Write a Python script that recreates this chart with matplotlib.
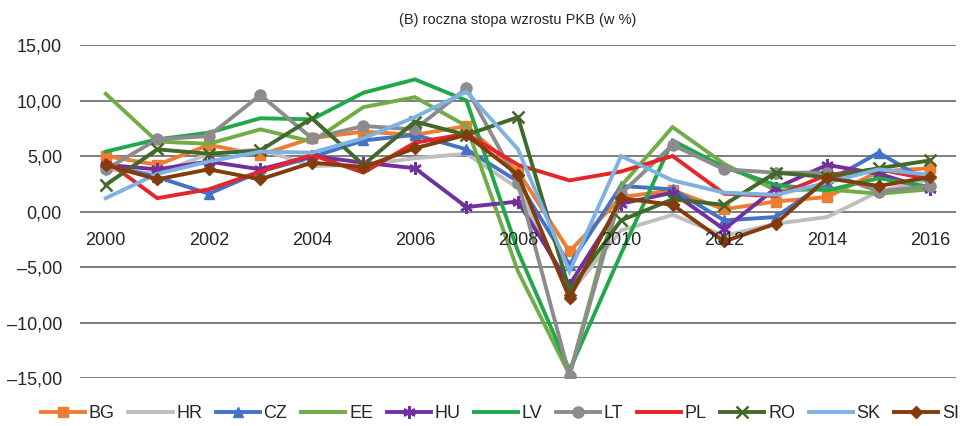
"""
roczna stopa wzrostu PKB - wykres liniowy (panel B)
"""

import matplotlib
matplotlib.use('Agg')
import matplotlib.pyplot as plt
from matplotlib.ticker import FuncFormatter

# dane
years = list(range(2000, 2017))
bg = [5.0, 4.2, 6.0, 5.1, 6.6, 7.2, 6.9, 7.7, 3.6, -3.6, 1.3, 1.9, 0.2, 0.9, 1.3, 3.6, 3.9]
hr = [3.8, 3.4, 5.2, 5.6, 4.1, 4.2, 4.8, 5.2, 2.1, -7.4, -1.7, -0.3, -2.2, -1.1, -0.5, 1.8, 2.9]
cz = [4.2, 3.1, 1.6, 3.6, 4.9, 6.4, 6.9, 5.6, 2.7, -4.8, 2.3, 2.0, -0.8, -0.5, 2.7, 5.3, 2.6]
ee = [10.6, 6.3, 6.1, 7.4, 6.3, 9.4, 10.3, 7.7, -5.4, -14.7, 2.3, 7.6, 4.3, 1.9, 2.0, 1.6, 2.0]
hu = [4.2, 3.8, 4.5, 3.8, 5.0, 4.4, 3.9, 0.4, 0.9, -6.6, 0.7, 1.7, -1.6, 2.1, 4.2, 3.4, 2.0]
lv = [5.4, 6.5, 7.1, 8.4, 8.3, 10.7, 11.9, 10.0, -3.6, -14.3, -3.8, 6.4, 4.0, 2.4, 1.9, 3.0, 2.2]
lt = [3.8, 6.5, 6.8, 10.5, 6.6, 7.7, 7.4, 11.1, 2.6, -14.8, 1.6, 6.0, 3.8, 3.5, 3.5, 1.8, 2.3]
pl = [4.6, 1.2, 2.0, 3.6, 5.1, 3.5, 6.2, 7.0, 4.2, 2.8, 3.6, 5.0, 1.6, 1.4, 3.3, 3.8, 2.9]
ro = [2.4, 5.6, 5.2, 5.5, 8.4, 4.2, 8.1, 6.9, 8.5, -7.1, -0.8, 1.1, 0.6, 3.5, 3.1, 3.9, 4.6]
sk = [1.2, 3.4, 4.5, 5.4, 5.3, 6.6, 8.5, 10.8, 5.6, -5.4, 5.0, 2.8, 1.7, 1.5, 2.6, 3.8, 3.3]
si = [4.2, 2.9, 3.8, 2.9, 4.4, 4.0, 5.7, 6.9, 3.3, -7.8, 1.2, 0.6, -2.7, -1.1, 3.0, 2.3, 3.1]

# (etykieta, dane, kolor, marker, rozmiar markera)
series = [
    ('BG', bg, '#ED7D31', 's', 7),
    ('HR', hr, '#BFBFBF', None, 0),
    ('CZ', cz, '#4472C4', '^', 7),
    ('EE', ee, '#70AD47', None, 0),
    ('HU', hu, '#7030A0', (6, 2, 0), 9),
    ('LV', lv, '#22A84A', None, 0),
    ('LT', lt, '#8C8C8C', 'o', 8),
    ('PL', pl, '#E4252A', None, 0),
    ('RO', ro, '#43682B', 'x', 8),
    ('SK', sk, '#7DB2E2', None, 0),
    ('SI', si, '#843C0C', 'D', 6),
]

plt.rcParams['font.family'] = ['Liberation Sans', 'DejaVu Sans']

fig = plt.figure(figsize=(9.61, 4.26), dpi=100)
ax = fig.add_axes([80 / 961, 1 - 378 / 426, 876 / 961, 333 / 426])

# linie siatki pod seriami, etykiety osi nad seriami
for yv in range(-15, 16, 5):
    ax.axhline(yv, color='#5a5a5a', lw=1.1, zorder=1)

for name, vals, col, mk, ms in series:
    ax.plot(years, vals, color=col, lw=2.8, marker=mk, markersize=ms,
            markeredgewidth=1.8 if mk in ('x', (6, 2, 0)) else 1,
            markeredgecolor=col, markerfacecolor=col, label=name,
            solid_joinstyle='miter', zorder=2)

ax.set_xlim(1999.5, 2016.5)
ax.set_ylim(-15, 15)
ax.set_yticks(range(-15, 16, 5))
ax.set_xticks(years[::2])
ax.yaxis.set_major_formatter(FuncFormatter(
    lambda v, p: f'{v:.2f}'.replace('.', ',').replace('-', '\u2013')))

for s in ['top', 'right', 'left']:
    ax.spines[s].set_visible(False)
ax.spines['bottom'].set_position(('data', 0))
ax.spines['bottom'].set_visible(False)
ax.tick_params(axis='y', length=0, pad=13, labelsize=13, labelcolor='#262626')
ax.tick_params(axis='x', length=0, pad=15, labelsize=13, labelcolor='#262626')
ax.set_axisbelow(False)

ax.set_title('(B) roczna stopa wzrostu PKB (w %)', fontsize=10.5,
             color='#262626', pad=15)

fig.legend(loc='center left', bbox_to_anchor=(41 / 961, 12 / 426), ncol=11,
           frameon=False, fontsize=13, handlelength=2.45, handletextpad=0.2,
           columnspacing=0.75, borderpad=0, borderaxespad=0, numpoints=1,
           labelcolor='#262626')

fig.savefig('out.png', dpi=100)
